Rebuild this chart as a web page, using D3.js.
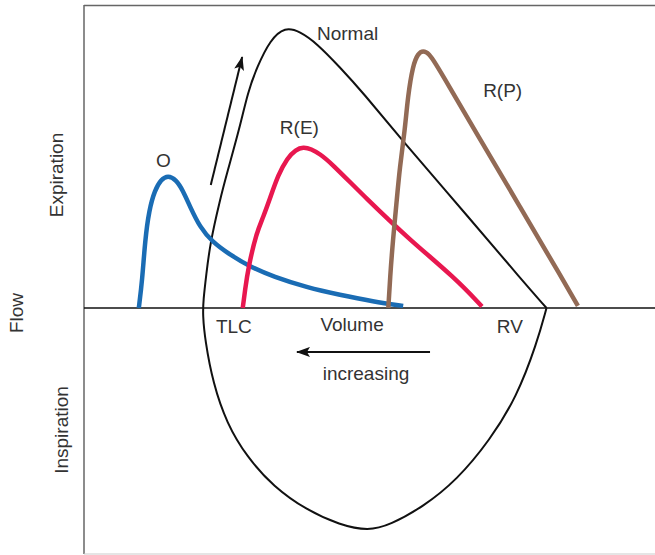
<!DOCTYPE html>
<html>
<head>
<meta charset="utf-8">
<script src="https://cdn.jsdelivr.net/npm/d3@7"></script>
<style>
	body { margin: 0; background: #fff; }
	text { font-family: "Liberation Sans", Arial, sans-serif; fill: #333; }
</style>
</head>
<body>
<div id="graph"></div>
<script>
// volume (0..100, left = high volume) vs flow (+ expiration, - inspiration)
const normal_loop = [
	[81.0, 0], [79.3, -11.7], [75.8, -29.3], [71.1, -43.6], [65.3, -56.8], [59.4, -65.6],
	[53.6, -71.6], [49.8, -73.6], [44.8, -71.6], [39.0, -66.7], [33.2, -59.0], [28.5, -49.1],
	[25.0, -38.1], [22.6, -24.9], [21.2, -10.6], [20.8, -2.3], [20.9, 2.6], [21.4, 10.9],
	[22.1, 21.5], [23.8, 35.6], [25.0, 44.2], [27.3, 59.7], [28.7, 71.3], [30.3, 79.5],
	[32.6, 88.5], [35.2, 92.8], [37.8, 91.3], [40.8, 87.3], [44.8, 79.5], [48.9, 71.0],
	[55.5, 55.8], [67.6, 29.4], [76.7, 9.2], [81.0, 0]
];
const obstructive = [
	[9.6, 0], [10.2, 9.2], [10.7, 22.4], [11.4, 32.3], [12.4, 38.9], [13.5, 42.4],
	[14.7, 43.8], [16.1, 42.4], [17.3, 38.9], [18.6, 33.3], [20.3, 26.7], [22.4, 21.9],
	[25.6, 17.5], [29.1, 13.6], [33.2, 10.3], [39.0, 6.8], [44.8, 4.3], [50.7, 2.1],
	[55.9, 0.7]
];
const restrictive_e = [
	[27.8, 0], [28.2, 5.9], [28.8, 13.6], [30.2, 24.8], [31.4, 30.0], [32.6, 36.3],
	[34.0, 43.9], [35.6, 49.5], [37.1, 52.3], [38.4, 53.1], [39.8, 52.5], [41.3, 50.8],
	[43.1, 48.2], [49.5, 36.0], [57.1, 22.4], [65.0, 9.9], [69.7, 0.5]
];
const restrictive_p = [
	[53.3, 0], [53.6, 9.9], [54.1, 22.4], [54.7, 34.0], [55.3, 46.5], [56.2, 58.7],
	[56.7, 69.6], [57.6, 80.2], [58.5, 84.0], [59.4, 85.0], [60.4, 84.0], [61.5, 80.9],
	[63.6, 74.3], [68.8, 57.4], [76.4, 33.3], [83.9, 9.2], [86.5, 0.7]
];
const arrows = [
	[[22.2, 40.6], [27.7, 82.8]],
	[[60.6, -14.5], [37.3, -14.5]]
];
const curve_labels = [
	{text: "Normal", v: 40.8, f: 88.5},
	{text: "R(P)", v: 69.9, f: 69.6},
	{text: "R(E)", v: 34.3, f: 57.4},
	{text: "O", v: 12.6, f: 46.5},
	{text: "TLC", v: 23.1, f: -8.3},
	{text: "Volume", v: 41.4, f: -7.6},
	{text: "RV", v: 72.3, f: -8.3},
	{text: "increasing", v: 41.8, f: -23.8}
];
const axis_labels = [
	{text: "Flow", x: 23, y: 313},
	{text: "Expiration", x: 63, y: 175},
	{text: "Inspiration", x: 68, y: 430}
];

let width = 655, height = 555;
let svg = d3.select("#graph").append("svg").attr("width", width).attr("height", height);

let x = d3.scaleLinear().domain([0, 100]).range([84, 655]);
let y = d3.scaleLinear().domain([-81, 100]).range([553.4, 5]);

// frame
svg.append("line").attr("x1", x(0)).attr("x2", x(100)).attr("y1", 5.5).attr("y2", 5.5)
	.attr("stroke", "#666").attr("stroke-width", 1.5);
svg.append("line").attr("x1", x(0)).attr("x2", x(0)).attr("y1", 5).attr("y2", 554)
	.attr("stroke", "#666").attr("stroke-width", 1.5);
svg.append("line").attr("x1", x(0)).attr("x2", x(100)).attr("y1", 554).attr("y2", 554)
	.attr("stroke", "#ccc").attr("stroke-width", 1.2);
// zero flow line
svg.append("line").attr("x1", x(0)).attr("x2", x(100)).attr("y1", y(0)).attr("y2", y(0))
	.attr("stroke", "#111").attr("stroke-width", 1.3);

// basis smooths out the reading noise in the hand-read points
let line = d3.line().x(d => x(d[0])).y(d => y(d[1])).curve(d3.curveBasis);

svg.append("path").attr("d", line(normal_loop)).attr("fill", "none")
	.attr("stroke", "#111").attr("stroke-width", 2).attr("stroke-linejoin", "miter");
svg.append("path").attr("d", line(obstructive)).attr("fill", "none")
	.attr("stroke", "#1a6cb4").attr("stroke-width", 4.5);
svg.append("path").attr("d", line(restrictive_e)).attr("fill", "none")
	.attr("stroke", "#e8174f").attr("stroke-width", 4.5);
svg.append("path").attr("d", line(restrictive_p)).attr("fill", "none")
	.attr("stroke", "#926a55").attr("stroke-width", 4.5);

// arrows
svg.append("defs").append("marker")
	.attr("id", "head").attr("viewBox", "0 0 14 10").attr("refX", 13).attr("refY", 5)
	.attr("markerWidth", 14).attr("markerHeight", 10).attr("markerUnits", "userSpaceOnUse")
	.attr("orient", "auto")
	.append("path").attr("d", "M0,0L14,5L0,10L3,5Z").attr("fill", "#111");

svg.selectAll(".arrow").data(arrows).enter().append("line")
	.attr("class", "arrow")
	.attr("x1", d => x(d[0][0])).attr("y1", d => y(d[0][1]))
	.attr("x2", d => x(d[1][0])).attr("y2", d => y(d[1][1]))
	.attr("stroke", "#111").attr("stroke-width", 2)
	.attr("marker-end", "url(#head)");

svg.selectAll(".clabel").data(curve_labels).enter().append("text")
	.attr("class", "clabel")
	.attr("x", d => x(d.v)).attr("y", d => y(d.f))
	.attr("font-size", 19)
	.text(d => d.text);

svg.selectAll(".alabel").data(axis_labels).enter().append("text")
	.attr("class", "alabel")
	.attr("transform", d => `translate(${d.x},${d.y}) rotate(-90)`)
	.attr("text-anchor", "middle")
	.attr("font-size", 19)
	.text(d => d.text);
</script>
</body>
</html>
